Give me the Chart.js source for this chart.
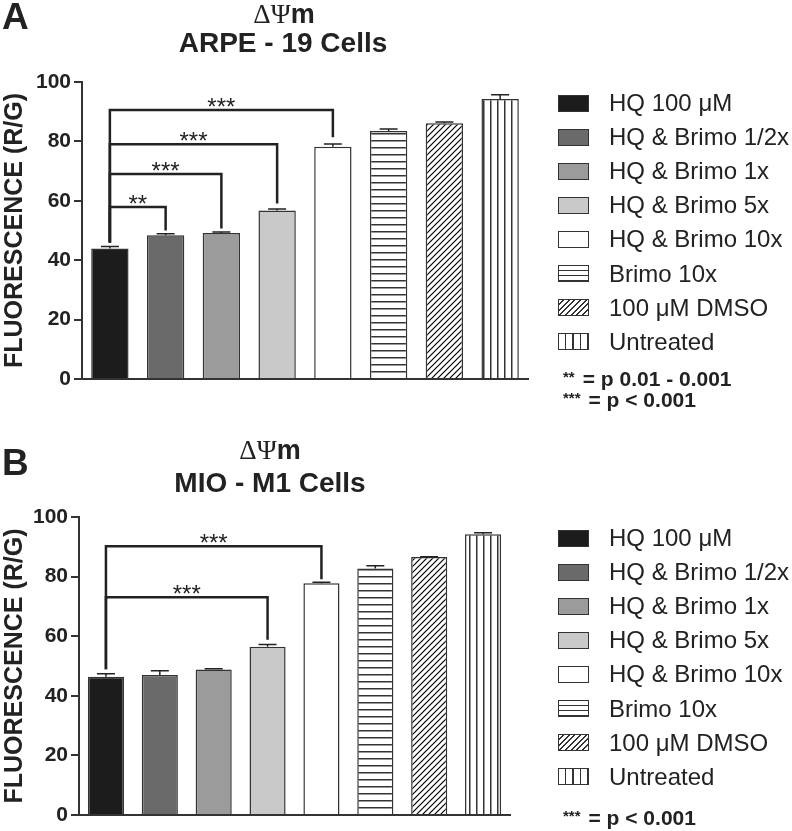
<!DOCTYPE html>
<html>
<head>
<meta charset="utf-8">
<script src="https://cdn.jsdelivr.net/npm/chart.js@4.4.0/dist/chart.umd.min.js"></script>
<style>
  body { margin: 0; background: #fff; font-family: "Liberation Sans", Arial, sans-serif; color: #222; }
  #page { position: relative; width: 792px; height: 831px; overflow: hidden; }
  canvas { position: absolute; left: 0; }
  .abs { position: absolute; line-height: 1; white-space: nowrap; }
  .panel { font-weight: bold; font-size: 37px; left: 2px; }
  .title { width: 400px; text-align: center; }
  .sym { font-family: "Liberation Serif", "DejaVu Serif", serif; font-size: 27px; }
  .sub { font-weight: bold; font-size: 28px; }
  .row { position: absolute; left: 558px; height: 30px; display: flex; align-items: center; font-size: 24px; }
  .box { width: 29px; height: 15px; border: 1.5px solid #333; margin-right: 20px; }
  .sig { position: absolute; left: 563px; font-weight: bold; font-size: 21px; line-height: 1; }
  .sig small { font-size: 15px; position: relative; top: -4px; margin-right: 8px; }
</style>
</head>
<body>
<div id="page">
  <canvas id="chartA" width="792" height="415" style="top:0"></canvas>
  <canvas id="chartB" width="792" height="416" style="top:415px"></canvas>

  <div class="abs panel" style="top:-2px">A</div>
  <div class="abs title" style="left:84px;top:1px"><span class="sym">ΔΨ</span><b style="font-size:27px">m</b></div>
  <div class="abs title sub" style="left:83px;top:29px">ARPE - 19 Cells</div>

  <div class="abs panel" style="top:444px">B</div>
  <div class="abs title" style="left:70px;top:437px"><span class="sym">ΔΨ</span><b style="font-size:27px">m</b></div>
  <div class="abs title sub" style="left:70px;top:469px">MIO - M1 Cells</div>

  <div id="legendA"></div>
  <div id="legendB"></div>

  <div class="sig" style="top:368px"><small>**</small>= p 0.01 - 0.001</div>
  <div class="sig" style="top:389px"><small>***</small>= p &lt; 0.001</div>
  <div class="sig" style="top:807px"><small>***</small>= p &lt; 0.001</div>
</div>

<script>
// groups, same order in both panels
const categories = ['HQ 100 μM', 'HQ & Brimo 1/2x', 'HQ & Brimo 1x', 'HQ & Brimo 5x',
                    'HQ & Brimo 10x', 'Brimo 10x', '100 μM DMSO', 'Untreated'];

// panel A: ARPE-19 cells
const arpeValues = [43.9, 48.4, 49.2, 56.7, 78.2, 83.5, 86.1, 94.3];
const arpeErrors = [0.7, 0.5, 0.3, 0.5, 0.9, 0.7, 0.4, 1.4];

// panel B: MIO-M1 cells
const mioValues = [46.4, 47.0, 48.8, 56.5, 77.8, 82.7, 86.6, 94.2];
const mioErrors = [1.0, 1.4, 0.3, 0.7, 0.3, 0.9, 0.1, 0.5];

const yTicks = [0, 20, 40, 60, 80, 100];

// significance brackets: from bar, to bar, bracket level, left leg end, right leg end, stars
const arpeBrackets = [
    [0, 4, 90.6, 46.0, 81.4, '***'],
    [0, 3, 79.0, 46.0, 59.1, '***'],
    [0, 2, 69.0, 46.0, 50.7, '***'],
    [0, 1, 57.9, 46.0, 50.0, '**']
];
const mioBrackets = [
    [0, 4, 90.2, 48.9, 79.1, '***'],
    [0, 3, 73.1, 48.9, 58.8, '***']
];

// fill kind for each group: solid grey or a line pattern
const fills = ['#1c1c1c', '#6a6a6a', '#9b9b9b', '#c9c9c9', '#ffffff', 'h', 'd', 'v'];

function makePattern(kind) {
    const c = document.createElement('canvas');
    const p = c.getContext('2d');
    c.width = 7; c.height = 7;
    p.fillStyle = '#fff';
    p.fillRect(0, 0, 7, 7);
    p.strokeStyle = '#333';
    p.fillStyle = '#333';
    if (kind === 'h') {
        p.fillRect(0, 0, 7, 1.5);
    } else if (kind === 'v') {
        p.fillRect(0, 0, 1.5, 7);
    } else {
        c.width = 6; c.height = 6;
        p.fillStyle = '#fff';
        p.fillRect(0, 0, 6, 6);
        p.lineWidth = 1.2;
        p.beginPath();
        p.moveTo(-1, 7); p.lineTo(7, -1);
        p.moveTo(-4, 4); p.lineTo(4, -4);
        p.moveTo(2, 10); p.lineTo(10, 2);
        p.stroke();
    }
    return p.createPattern(c, 'repeat');
}

const barFills = fills.map(f => f.length === 1 ? makePattern(f) : f);

const cssFills = {
    h: 'repeating-linear-gradient(to bottom, #fff 0 3.5px, #333 3.5px 5px)',
    d: 'repeating-linear-gradient(135deg, #fff 0 2.6px, #333 2.6px 4px)',
    v: 'repeating-linear-gradient(to right, #fff 0 6px, #333 6px 7.5px)'
};

function buildLegend(id, firstRow) {
    const el = document.getElementById(id);
    categories.forEach((name, i) => {
        const row = document.createElement('div');
        row.className = 'row';
        row.style.top = (firstRow + i * 34.1 - 15) + 'px';
        const box = document.createElement('span');
        box.className = 'box';
        box.style.background = cssFills[fills[i]] || fills[i];
        row.appendChild(box);
        row.appendChild(document.createTextNode(name));
        el.appendChild(row);
    });
}
buildLegend('legendA', 103);
buildLegend('legendB', 538);

// error bars and significance brackets
const extras = {
    id: 'extras',
    afterDatasetsDraw(chart, args, opts) {
        const ctx = chart.ctx;
        const x = chart.scales.x, y = chart.scales.y;
        const values = chart.data.datasets[0].data;
        ctx.save();
        ctx.strokeStyle = '#222';
        ctx.lineWidth = 1.5;
        opts.errors.forEach((e, i) => {
            const cx = x.getPixelForValue(i);
            const y0 = y.getPixelForValue(values[i]);
            const y1 = y.getPixelForValue(values[i] + e);
            ctx.beginPath();
            ctx.moveTo(cx, y0); ctx.lineTo(cx, y1);
            ctx.moveTo(cx - 9, y1); ctx.lineTo(cx + 9, y1);
            ctx.stroke();
        });

        ctx.lineWidth = 2.5;
        ctx.fillStyle = '#222';
        ctx.font = '24px "Liberation Sans", Arial, sans-serif';
        ctx.textAlign = 'center';
        ctx.textBaseline = 'alphabetic';
        opts.brackets.forEach(b => {
            const x1 = x.getPixelForValue(b[0]);
            const x2 = x.getPixelForValue(b[1]);
            const top = y.getPixelForValue(b[2]);
            ctx.beginPath();
            ctx.moveTo(x1, y.getPixelForValue(b[3]));
            ctx.lineTo(x1, top);
            ctx.lineTo(x2, top);
            ctx.lineTo(x2, y.getPixelForValue(b[4]));
            ctx.stroke();
            ctx.fillText(b[5], (x1 + x2) / 2, top + 5);
        });
        ctx.restore();
    }
};

function makeChart(id, values, errors, brackets, area) {
    const canvas = document.getElementById(id);
    return new Chart(canvas, {
        type: 'bar',
        data: {
            labels: categories,
            datasets: [{
                data: values,
                backgroundColor: barFills,
                borderColor: '#333',
                borderWidth: 1.5,
                barPercentage: 0.67,
                categoryPercentage: 1
            }]
        },
        options: {
            responsive: false,
            animation: false,
            layout: {
                padding: { left: 0, right: canvas.width - area.right, top: area.top, bottom: canvas.height - area.bottom }
            },
            scales: {
                x: {
                    grid: { display: false },
                    border: { display: true, color: '#333', width: 2 },
                    ticks: { display: false },
                    afterFit: s => { s.height = 0; }
                },
                y: {
                    min: 0,
                    max: 100,
                    afterBuildTicks: s => { s.ticks = yTicks.map(v => ({ value: v })); },
                    afterFit: s => { s.width = area.left; },
                    grid: { drawOnChartArea: false, drawTicks: true, tickLength: 8, color: '#333', lineWidth: 2 },
                    border: { display: true, color: '#333', width: 2 },
                    ticks: {
                        color: '#222',
                        padding: 3,
                        font: { family: '"Liberation Sans", Arial, sans-serif', size: 21, weight: 'bold' }
                    },
                    title: {
                        display: true,
                        text: 'FLUORESCENCE (R/G)',
                        color: '#222',
                        padding: { top: 0, bottom: 0 },
                        font: { family: '"Liberation Sans", Arial, sans-serif', size: 25, weight: 'bold' }
                    }
                }
            },
            plugins: {
                legend: { display: false },
                tooltip: { enabled: false },
                extras: { errors: errors, brackets: brackets }
            }
        },
        plugins: [extras]
    });
}

makeChart('chartA', arpeValues, arpeErrors, arpeBrackets, { left: 82, right: 528, top: 82, bottom: 379 });
makeChart('chartB', mioValues, mioErrors, mioBrackets, { left: 79, right: 510, top: 102, bottom: 400 });
</script>
</body>
</html>
